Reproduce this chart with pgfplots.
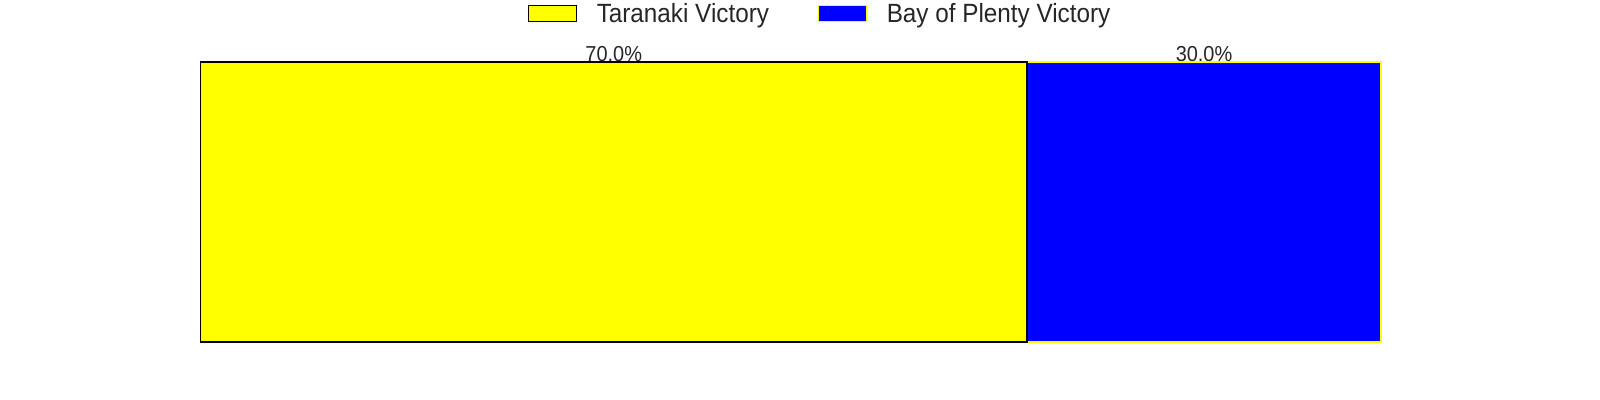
\documentclass[border=0pt]{standalone}
\usepackage{fontspec}
\setmainfont[FakeStretch=0.92]{Liberation Sans}
\usepackage{pgfplots}
\pgfplotsset{compat=1.18}
\definecolor{txt}{HTML}{262626}
\definecolor{yel}{RGB}{255,255,0}
\definecolor{blu}{RGB}{0,0,255}
\begin{document}
\begin{tikzpicture}
\path[use as bounding box] (0,0) rectangle (1152pt,288pt);
\begin{axis}[
  at={(144.4pt,41.8pt)}, anchor=south west,
  width=850pt, height=201.6pt, scale only axis,
  xbar stacked, bar width=1, bar shift=0pt,
  xmin=0, xmax=100, ymin=-0.5, ymax=0.5,
  enlargelimits=false, hide axis, clip=false,
  legend columns=2,
  legend image code/.code={\draw[#1] (0pt,-5.9pt) rectangle (34.6pt,5.9pt);},
  legend style={draw=none, fill=none, inner sep=0pt, text=txt,
    font=\fontsize{19}{22}\selectfont,
    at={(0.524,1.173)}, anchor=center,
    nodes={inner sep=0pt, anchor=west},
    /tikz/every odd column/.append style={column sep=14pt},
    /tikz/every even column/.append style={column sep=35.3pt}},
]
\addplot[fill=yel, draw=black, line width=0.9pt] coordinates {(70,0)};
\addplot[fill=blu, draw=yel, line width=0.9pt] coordinates {(30,0)};
\legend{Taranaki Victory, Bay of Plenty Victory}
\node[anchor=base, text=txt, font=\fontsize{15.6}{18}\selectfont, inner sep=0pt] at (axis cs:35,0.5) {70.0\%};
\node[anchor=base, text=txt, font=\fontsize{15.6}{18}\selectfont, inner sep=0pt] at (axis cs:85,0.5) {30.0\%};
\end{axis}
\end{tikzpicture}
\end{document}
